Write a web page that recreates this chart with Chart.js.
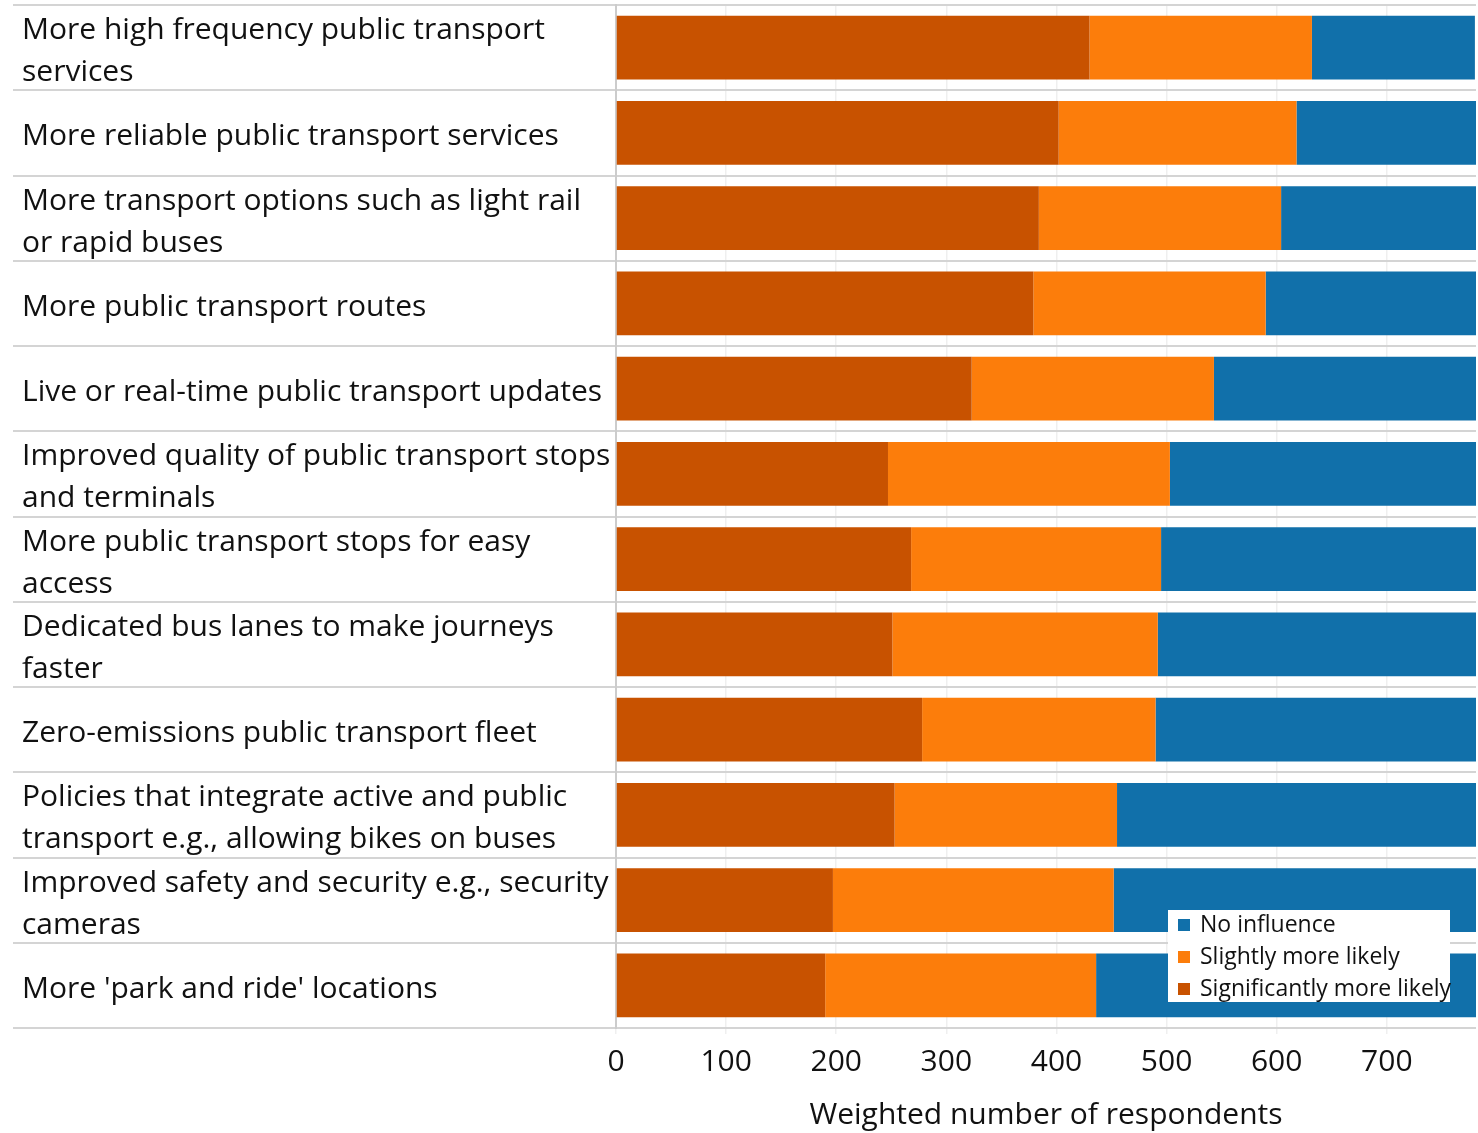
<!DOCTYPE html>
<html>
<head>
<meta charset="utf-8">
<script src="https://cdn.jsdelivr.net/npm/chart.js@4"></script>
<style>
  html, body { margin: 0; padding: 0; background: #fff; }
  #wrap { width: 1478px; height: 1133px; }
</style>
</head>
<body>
<div id="wrap"><canvas id="myChart" width="1478" height="1133"></canvas></div>
<script>
const ctx = document.getElementById("myChart");

// Categories (wrapped like the original)
const categories = [
  ["More high frequency public transport", "services"],
  "More reliable public transport services",
  ["More transport options such as light rail", "or rapid buses"],
  "More public transport routes",
  "Live or real-time public transport updates",
  ["Improved quality of public transport stops", "and terminals"],
  ["More public transport stops for easy", "access"],
  ["Dedicated bus lanes to make journeys", "faster"],
  "Zero-emissions public transport fleet",
  ["Policies that integrate active and public", "transport e.g., allowing bikes on buses"],
  ["Improved safety and security e.g., security", "cameras"],
  "More 'park and ride' locations",
];

// Weighted number of respondents per answer
const significantlyMoreLikely = [430, 402, 384, 379, 323, 247, 268, 251, 278, 253, 197, 190];
const slightlyMoreLikely = [202, 216, 220, 211, 220, 256, 227, 241, 212, 202, 255, 246];
const noInfluence = [148, 163, 177, 191, 238, 278, 286, 289, 291, 326, 329, 345];

const xTicks = [0, 100, 200, 300, 400, 500, 600, 700];
const xMax = 781;

const FONT = "'Open Sans', 'Noto Sans', sans-serif";

// Legend drawn inside the plot, bottom right, in reverse order
const insideLegend = {
  id: "insideLegend",
  afterDraw(chart) {
    const c = chart.ctx;
    const area = chart.chartArea;
    const w = 282, h = 92;
    const x = area.right - 26 - w;
    const y = area.bottom - 26 - h;
    c.save();
    c.fillStyle = "#fff";
    c.fillRect(x, y, w, h);
    c.font = "23px " + FONT;
    c.textBaseline = "middle";
    const sets = chart.data.datasets.slice().reverse();
    sets.forEach((ds, i) => {
      const cy = y + 15 + i * 32;
      c.fillStyle = ds.backgroundColor;
      c.fillRect(x + 10, cy - 6, 12, 12);
      c.fillStyle = "#111";
      c.fillText(ds.label, x + 32, cy);
    });
    c.restore();
  },
};

const barChart = new Chart(ctx, {
  type: "bar",
  data: {
    labels: categories,
    datasets: [
      {
        label: "Significantly more likely",
        data: significantlyMoreLikely,
        backgroundColor: "#C85200",
      },
      {
        label: "Slightly more likely",
        data: slightlyMoreLikely,
        backgroundColor: "#FC7D0B",
      },
      {
        label: "No influence",
        data: noInfluence,
        backgroundColor: "#1170AA",
      },
    ],
  },
  options: {
    indexAxis: "y",
    responsive: false,
    animation: false,
    maintainAspectRatio: false,
    barPercentage: 0.75,
    categoryPercentage: 1,
    layout: { padding: { left: 22, right: 2, top: 5, bottom: 0 } },
    plugins: {
      legend: { display: false },
      tooltip: { enabled: false },
    },
    scales: {
      x: {
        stacked: true,
        min: 0,
        max: xMax,
        afterBuildTicks: (scale) => {
          scale.ticks = xTicks.map((v) => ({ value: v }));
        },
        afterFit: (scale) => {
          scale.height = 105;
          scale.paddingLeft = 0;
          scale.paddingRight = 0;
        },
        grid: {
          color: "#efefef",
          lineWidth: 1.5,
          tickLength: 6,
        },
        border: { display: false },
        ticks: {
          color: "#111",
          padding: 10,
          font: { family: FONT, size: 30 },
        },
        title: {
          display: true,
          text: "Weighted number of respondents",
          color: "#111",
          padding: { top: 0, bottom: 0 },
          font: { family: FONT, size: 30 },
        },
      },
      y: {
        stacked: true,
        afterFit: (scale) => {
          scale.width = 594;
          scale.paddingTop = 0;
          scale.paddingBottom = 0;
        },
        grid: {
          offset: true,
          color: "#d4d4d4",
          lineWidth: 2,
          tickLength: 603,
        },
        border: { display: true, color: "#cccccc", width: 2 },
        ticks: {
          crossAlign: "far",
          color: "#111",
          autoSkip: false,
          labelOffset: 4,
          font: { family: FONT, size: 30, lineHeight: 1.4 },
        },
      },
    },
  },
  plugins: [insideLegend],
});
</script>
</body>
</html>
